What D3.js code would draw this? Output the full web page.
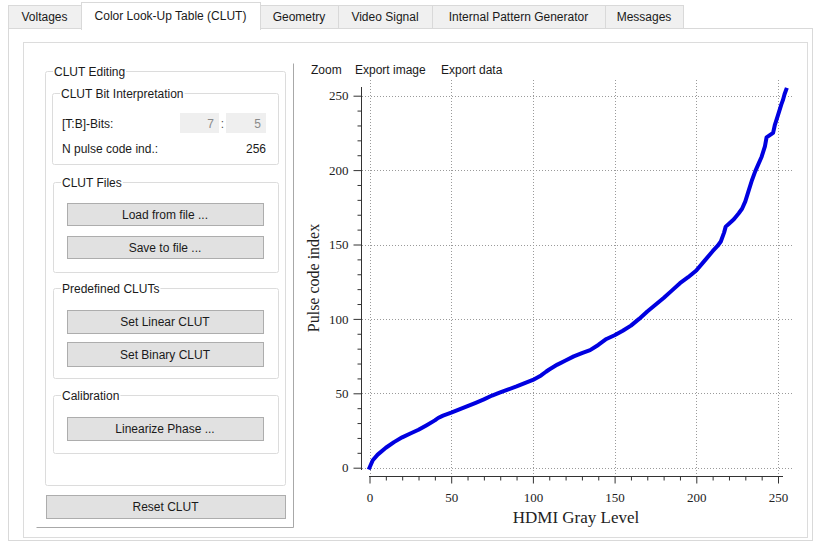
<!DOCTYPE html>
<html><head><meta charset="utf-8">
<script src="https://cdn.jsdelivr.net/npm/d3@7"></script>
<style>
html,body{margin:0;padding:0;background:#fff;}
svg{display:block;}
.ui{font-family:"Liberation Sans",Arial,sans-serif;font-size:12px;fill:#1a1a1a;}
.ax text{font-family:"Liberation Serif","Times New Roman",serif;font-size:13px;fill:#222;}
</style></head>
<body>
<svg id="c" width="819" height="542"></svg>
<script>
// ---- data ----
const tabLabels = ["Voltages","Color Look-Up Table (CLUT)","Geometry","Video Signal","Internal Pattern Generator","Messages"];
const toolbarLabels = ["Zoom","Export image","Export data"];
const xTicks = [0,50,100,150,200,250];
const yTicks = [0,50,100,150,200,250];
const grayLevel = [0,2,5,10,15,20,25,30,35,40,42,45,50,55,60,65,70,75,80,85,90,95,100,105,108,110,115,120,125,130,135,140,145,150,155,160,165,170,175,180,185,190,195,200,205,210,213,215,217,218,220,223,226,228,230,232,234,236,238,240,242,243,245,247,248,250,252,253,254,255];
const pulseIndex = [0,5,8.8,13.4,17.2,20.4,23,25.5,28.6,31.8,33.4,35,37,39.2,41.4,43.6,45.9,48.5,50.6,52.6,54.6,56.8,59,62,64.5,66,69.3,72,74.8,77,79,82.5,86.5,89,92,95.5,100,105,109.5,114,119,124,128,132.5,139,145.5,149,152,158,162,164,167,171,174,179,186,193,199,204,209,216,222,223.5,225,230,237,244,247,251,254];

const svg = d3.select("#c");
const W = 819, H = 542;

// ---- window chrome ----
svg.append("rect").attr("x",0).attr("y",0).attr("width",W).attr("height",H).attr("fill","#fff");
const tabX = [8,81,260,338,432,605,683];
svg.append("rect").attr("x",8.5).attr("y",28.5).attr("width",804).attr("height",512).attr("fill","#fff").attr("stroke","#d9d9d9");
tabLabels.forEach((t,i)=>{
  const sel = i===1;
  const x0 = tabX[i], x1 = tabX[i+1];
  svg.append("rect").attr("x",x0+0.5).attr("y",sel?2.5:5.5).attr("width",x1-x0).attr("height",sel?27:23)
    .attr("fill",sel?"#fff":"#f0f0f0").attr("stroke","#d9d9d9");
  svg.append("text").attr("class","ui").attr("x",(x0+x1)/2).attr("y",sel?20:21).attr("text-anchor","middle").text(t);
});
svg.append("rect").attr("x",82).attr("y",27).attr("width",178).attr("height",3).attr("fill","#fff");

// inner panel
svg.append("rect").attr("x",23.5).attr("y",42.5).attr("width",784).attr("height",495).attr("fill","#fff").attr("stroke","#dcdcdc");
// left frame
svg.append("path").attr("d","M36.5,527.5 H293.5 V63.5").attr("fill","none").attr("stroke","#a8a8a8");

function group(x0,y0,x1,y1,title){
  svg.append("rect").attr("x",x0+0.5).attr("y",y0+0.5).attr("width",x1-x0).attr("height",y1-y0)
    .attr("rx",2).attr("fill","none").attr("stroke","#dcdcdc");
  const t = svg.append("text").attr("class","ui").attr("x",x0+9).attr("y",y0+4.5).text(title);
  const bb = t.node().getBBox();
  svg.insert("rect","text:last-child").attr("x",bb.x-1).attr("y",y0-2).attr("width",bb.width+2).attr("height",5).attr("fill","#fff");
  t.raise();
}
function button(x0,y0,x1,y1,label){
  svg.append("rect").attr("x",x0+0.5).attr("y",y0+0.5).attr("width",x1-x0).attr("height",y1-y0)
    .attr("fill","#e1e1e1").attr("stroke","#adadad");
  svg.append("text").attr("class","ui").attr("x",(x0+x1)/2).attr("y",(y0+y1)/2+4.5).attr("text-anchor","middle").text(label);
}
group(45,71,285,485,"CLUT Editing");
group(52,93,278,164,"CLUT Bit Interpretation");
group(53,182,278,272,"CLUT Files");
group(53,288,278,378,"Predefined CLUTs");
group(53,395,278,453,"Calibration");

svg.append("text").attr("class","ui").attr("x",62).attr("y",127.5).text("[T:B]-Bits:");
svg.append("rect").attr("x",180).attr("y",113).attr("width",39).attr("height",20).attr("fill","#efefef");
svg.append("rect").attr("x",226).attr("y",113).attr("width",40).attr("height",20).attr("fill","#efefef");
svg.append("text").attr("class","ui").attr("x",214).attr("y",127.5).attr("text-anchor","end").style("fill","#8a8a8a").text("7");
svg.append("text").attr("class","ui").attr("x",222.5).attr("y",127.5).attr("text-anchor","middle").style("fill","#555").text(":");
svg.append("text").attr("class","ui").attr("x",261).attr("y",127.5).attr("text-anchor","end").style("fill","#8a8a8a").text("5");
svg.append("text").attr("class","ui").attr("x",62).attr("y",152.5).text("N pulse code ind.:");
svg.append("text").attr("class","ui").attr("x",266).attr("y",152.5).attr("text-anchor","end").text("256");

button(67,203,263,225,"Load from file ...");
button(67,236,263,258,"Save to file ...");
button(67,310,263,333,"Set Linear CLUT");
button(67,342,263,366,"Set Binary CLUT");
button(67,417,263,440,"Linearize Phase ...");
button(46,495,285,518,"Reset CLUT");

// toolbar
const tbX = [311,355,441];
toolbarLabels.forEach((t,i)=>svg.append("text").attr("class","ui").attr("x",tbX[i]).attr("y",74).text(t));

// ---- chart ----
const x = d3.scaleLinear().domain([0,250]).range([369.5,778]);
const y = d3.scaleLinear().domain([0,250]).range([467.7,95.7]);

const grid = svg.append("g").attr("stroke","#9a9a9a").attr("stroke-width",1).attr("stroke-dasharray","1,2");
xTicks.forEach(v=>grid.append("line").attr("x1",Math.round(x(v))+0.5).attr("x2",Math.round(x(v))+0.5).attr("y1",80).attr("y2",474));
yTicks.forEach(v=>grid.append("line").attr("y1",Math.round(y(v))+0.5).attr("y2",Math.round(y(v))+0.5).attr("x1",362).attr("x2",793));

const xMinor = d3.range(0,251,10).filter(v=>v%50!==0);
const yMinor = d3.range(0,251,10).filter(v=>v%50!==0);

const axCol = "#333";
const gx = svg.append("g").attr("class","ax").attr("transform","translate(0,476.5)");
gx.append("line").attr("x1",369).attr("x2",783).attr("stroke",axCol);
gx.append("g").call(d3.axisBottom(x).tickValues(xTicks).tickSize(7).tickPadding(9).tickFormat(d3.format("d")))
  .call(g=>g.select(".domain").remove());
gx.append("g").call(d3.axisBottom(x).tickValues(xMinor).tickSize(4).tickFormat(""))
  .call(g=>g.select(".domain").remove());
gx.selectAll(".tick line").attr("stroke",axCol);

const gy = svg.append("g").attr("class","ax").attr("transform","translate(361.5,0)");
gy.append("line").attr("y1",87).attr("y2",470).attr("stroke",axCol);
gy.append("g").call(d3.axisLeft(y).tickValues(yTicks).tickSize(8).tickPadding(5).tickFormat(d3.format("d")))
  .call(g=>g.select(".domain").remove());
gy.append("g").call(d3.axisLeft(y).tickValues(yMinor).tickSize(4).tickFormat(""))
  .call(g=>g.select(".domain").remove());
gy.selectAll(".tick line").attr("stroke",axCol);

svg.append("text").attr("x",576).attr("y",523).attr("text-anchor","middle")
  .style("font-family","'Liberation Serif','Times New Roman',serif").style("font-size","17px").style("fill","#222").text("HDMI Gray Level");
svg.append("text").attr("transform","translate(319,278) rotate(-90)").attr("text-anchor","middle")
  .style("font-family","'Liberation Serif','Times New Roman',serif").style("font-size","16px").style("fill","#222").text("Pulse code index");

const pts = grayLevel.map((g,i)=>[g,pulseIndex[i]]);
svg.append("path").datum(pts)
  .attr("d",d3.line().x(d=>x(d[0])).y(d=>y(d[1])))
  .attr("fill","none").attr("stroke","#0000e0").attr("stroke-width",4).attr("stroke-linejoin","round").attr("stroke-linecap","square");
</script>
</body></html>
